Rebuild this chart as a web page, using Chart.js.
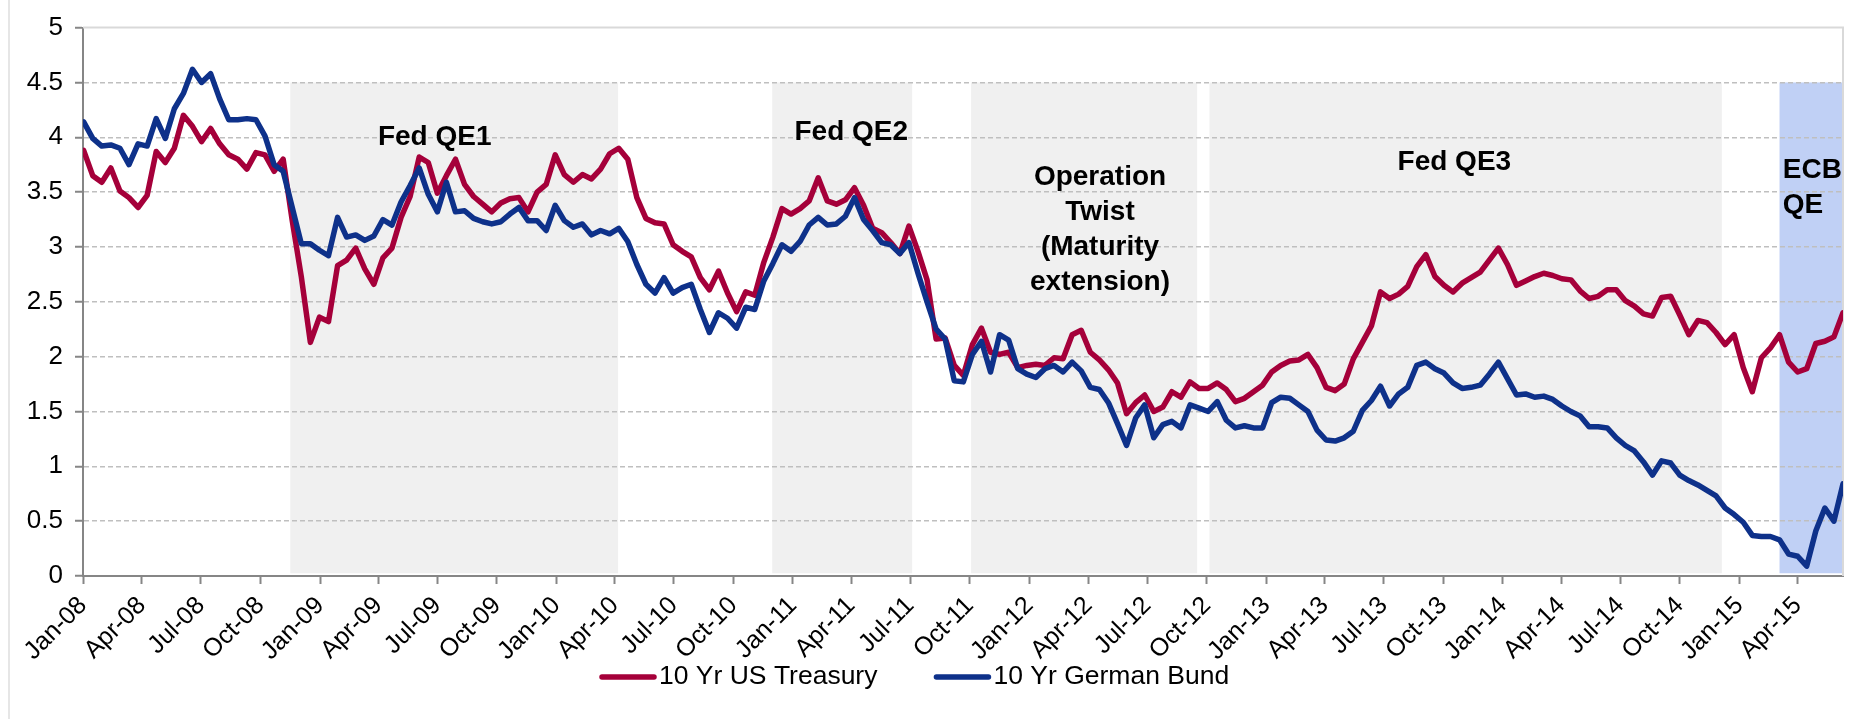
<!DOCTYPE html>
<html>
<head>
<meta charset="utf-8">
<script src="https://cdn.jsdelivr.net/npm/chart.js@4.4.1/dist/chart.umd.min.js"></script>
<style>
  html, body { margin: 0; padding: 0; background: #ffffff; }
  #wrap { width: 1855px; height: 719px; position: relative; }
  canvas { display: block; }
</style>
</head>
<body>
<div id="wrap"><canvas id="c" width="1855" height="719"></canvas></div>
<script>
// ---------------- DATA ----------------
// Bi-weekly observations starting on this date, one value every 14 days
const firstObservation = '2008-01-02';
const observationStepDays = 14;

const usTreasury = [
  3.88,3.65,3.59,3.72,3.51,3.45,3.36,3.47,3.87,3.77,
  3.90,4.20,4.10,3.96,4.08,3.94,3.84,3.80,3.71,3.86,
  3.84,3.69,3.80,3.24,2.73,2.13,2.36,2.32,2.83,2.88,
  2.99,2.80,2.66,2.90,2.99,3.27,3.46,3.82,3.77,3.49,
  3.65,3.80,3.57,3.46,3.39,3.32,3.40,3.44,3.45,3.32,
  3.50,3.57,3.84,3.66,3.59,3.66,3.62,3.71,3.85,3.90,
  3.80,3.45,3.26,3.22,3.21,3.02,2.96,2.91,2.72,2.61,
  2.78,2.58,2.41,2.59,2.56,2.86,3.09,3.35,3.30,3.35,
  3.42,3.63,3.42,3.39,3.43,3.54,3.38,3.17,3.13,3.04,
  2.94,3.19,2.96,2.70,2.16,2.17,1.92,1.83,2.11,2.26,
  2.04,2.02,2.04,1.90,1.92,1.93,1.92,1.99,1.98,2.20,
  2.24,2.04,1.97,1.88,1.76,1.48,1.58,1.65,1.50,1.54,
  1.68,1.63,1.77,1.71,1.71,1.76,1.70,1.59,1.62,1.68,
  1.74,1.86,1.92,1.96,1.97,2.02,1.90,1.72,1.69,1.75,
  1.98,2.13,2.28,2.59,2.53,2.57,2.64,2.82,2.93,2.73,
  2.65,2.59,2.67,2.72,2.77,2.88,2.99,2.84,2.65,2.69,
  2.73,2.76,2.74,2.71,2.70,2.60,2.53,2.55,2.61,2.61,
  2.51,2.46,2.39,2.37,2.54,2.55,2.38,2.20,2.33,2.31,
  2.22,2.11,2.20,1.90,1.68,1.99,2.08,2.20,1.95,1.86,
  1.89,2.12,2.14,2.18,2.40
];

const germanBund = [
  4.14,3.99,3.92,3.93,3.90,3.75,3.94,3.92,4.17,3.99,
  4.26,4.40,4.62,4.50,4.58,4.35,4.16,4.16,4.17,4.16,
  4.01,3.75,3.69,3.36,3.03,3.03,2.97,2.92,3.27,3.09,
  3.11,3.06,3.10,3.25,3.20,3.41,3.56,3.72,3.48,3.32,
  3.59,3.32,3.33,3.26,3.23,3.21,3.23,3.30,3.36,3.24,
  3.24,3.15,3.38,3.24,3.18,3.21,3.11,3.15,3.12,3.17,
  3.05,2.84,2.66,2.58,2.72,2.58,2.63,2.66,2.43,2.22,
  2.40,2.35,2.26,2.45,2.43,2.69,2.85,3.02,2.96,3.05,
  3.20,3.27,3.20,3.21,3.28,3.45,3.25,3.15,3.04,3.02,
  2.94,3.04,2.76,2.50,2.25,2.16,1.78,1.77,2.02,2.14,
  1.86,2.20,2.15,1.89,1.84,1.81,1.89,1.92,1.86,1.95,
  1.87,1.72,1.70,1.58,1.39,1.19,1.44,1.56,1.26,1.38,
  1.41,1.35,1.56,1.53,1.50,1.59,1.42,1.35,1.37,1.35,
  1.35,1.58,1.63,1.62,1.56,1.50,1.33,1.24,1.23,1.26,
  1.32,1.51,1.60,1.73,1.55,1.66,1.72,1.92,1.95,1.89,
  1.85,1.76,1.71,1.72,1.74,1.84,1.95,1.80,1.65,1.66,
  1.63,1.64,1.61,1.55,1.50,1.46,1.36,1.36,1.35,1.26,
  1.19,1.14,1.04,0.92,1.05,1.03,0.92,0.87,0.83,0.78,
  0.73,0.62,0.56,0.49,0.37,0.36,0.36,0.33,0.20,0.18,
  0.09,0.41,0.62,0.50,0.84
];

const seriesNames = ['10 Yr US Treasury', '10 Yr German Bund'];

// x-axis tick labels: quarter starts
const tickYears = [2008, 2009, 2010, 2011, 2012, 2013, 2014, 2015];
const tickMonthNames = ['Jan', 'Apr', 'Jul', 'Oct'];
const tickMonthNumbers = [1, 4, 7, 10];

// y-axis
const yMin = 0, yMax = 5, yStep = 0.5;

// Policy programmes (shaded bands)
const programmeNames = ['Fed QE1', 'Fed QE2', 'Operation Twist', 'Fed QE3', 'ECB QE'];
const programmeStart = ['2008-11-16', '2010-11-30', '2011-10-03', '2012-10-05', '2015-03-04'];
const programmeEnd   = ['2010-04-06', '2011-07-04', '2012-09-16', '2014-12-05', null];
const bandTopValue = 4.5, bandBottomValue = 0.025;

// Band captions (text lines, anchor date, anchor value of first line)
const captionLines = [
  ['Fed QE1'],
  ['Fed QE2'],
  ['Operation', 'Twist', '(Maturity', 'extension)'],
  ['Fed QE3'],
  ['ECB', 'QE']
];
const captionDates  = ['2009-06-27', '2011-04-01', '2012-04-19', '2013-10-18', '2015-03-09'];
const captionValues = [4.00, 4.045, 3.634, 3.773, 3.70];

// ---------------- HELPERS ----------------
const ORIGIN = Date.UTC(2008, 0, 1);
function dayOf(iso) {
  const [y, m, d] = iso.split('-').map(Number);
  return Math.round((Date.UTC(y, m - 1, d) - ORIGIN) / 86400000);
}
const firstDay = dayOf(firstObservation);
const observationDays = usTreasury.map((_, i) => firstDay + i * observationStepDays);
const lastDay = observationDays[observationDays.length - 1];

const tickValues = [], tickLabels = {};
tickYears.forEach(y => tickMonthNumbers.forEach((m, k) => {
  const iso = y + '-' + String(m).padStart(2, '0') + '-01';
  const d = dayOf(iso);
  if (d <= lastDay) {
    tickValues.push(d);
    tickLabels[d] = tickMonthNames[k] + '-' + String(y % 100).padStart(2, '0');
  }
}));

// ---------------- STYLE ----------------
const FONT = '"Liberation Sans", Arial, Helvetica, sans-serif';
const RED = '#A5003A';
const BLUE = '#0E318A';
const FED_FILL = '#F0F0F0';
const ECB_FILL = '#C0D0F5';
const AXIS_GREY = '#868686';

Chart.defaults.font.family = FONT;
Chart.defaults.color = '#000000';

const decorations = {
  id: 'decorations',
  beforeDraw(chart) {
    const { ctx, chartArea, scales: { x, y } } = chart;
    ctx.save();
    // outer frame (left edge)
    ctx.strokeStyle = '#E6E6E6';
    ctx.lineWidth = 2;
    ctx.beginPath();
    ctx.moveTo(9, 0); ctx.lineTo(9, chart.height);
    ctx.stroke();
    // bands
    const yTop = y.getPixelForValue(bandTopValue);
    const yBot = y.getPixelForValue(bandBottomValue);
    programmeNames.forEach((name, k) => {
      const x0 = x.getPixelForValue(dayOf(programmeStart[k]));
      const x1 = programmeEnd[k] ? x.getPixelForValue(dayOf(programmeEnd[k])) : chartArea.right;
      ctx.fillStyle = name.startsWith('ECB') ? ECB_FILL : FED_FILL;
      ctx.fillRect(x0, yTop, x1 - x0, yBot - yTop);
    });
    ctx.restore();
  },
  beforeDatasetsDraw(chart) {
    const { ctx, chartArea, scales: { x, y } } = chart;
    ctx.save();
    // plot-area top & right border
    ctx.strokeStyle = '#D9D9D9';
    ctx.lineWidth = 2;
    ctx.beginPath();
    ctx.moveTo(chartArea.left, chartArea.top);
    ctx.lineTo(chartArea.right, chartArea.top);
    ctx.lineTo(chartArea.right, chartArea.bottom);
    ctx.stroke();
    // captions
    ctx.fillStyle = '#000000';
    ctx.font = 'bold 28px ' + FONT;
    ctx.textBaseline = 'middle';
    captionLines.forEach((lines, k) => {
      const px = x.getPixelForValue(dayOf(captionDates[k]));
      const py = y.getPixelForValue(captionValues[k]);
      const isLeft = programmeNames[k].startsWith('ECB');
      ctx.textAlign = isLeft ? 'left' : 'center';
      lines.forEach((t, j) => ctx.fillText(t, px, py + j * 35));
    });
    ctx.restore();
  },
  afterDraw(chart) {
    const { ctx } = chart;
    ctx.save();
    ctx.font = '26.5px ' + FONT;
    ctx.textBaseline = 'middle';
    ctx.textAlign = 'left';
    let lx = 600;
    const ly = 677;
    const colors = [RED, BLUE];
    seriesNames.forEach((name, k) => {
      ctx.strokeStyle = colors[k];
      ctx.lineWidth = 5.5;
      ctx.lineCap = 'round';
      ctx.beginPath();
      ctx.moveTo(lx + 2, ly); ctx.lineTo(lx + 54, ly);
      ctx.stroke();
      ctx.fillStyle = '#000000';
      ctx.fillText(name, lx + 59, ly);
      lx = lx + 59 + ctx.measureText(name).width + 57;
    });
    ctx.restore();
  }
};

new Chart(document.getElementById('c'), {
  type: 'line',
  data: {
    datasets: [
      {
        label: seriesNames[0],
        data: usTreasury.map((v, i) => ({ x: observationDays[i], y: v })),
        borderColor: RED,
        borderWidth: 5.5,
        pointRadius: 0,
        tension: 0,
        borderJoinStyle: 'round',
        borderCapStyle: 'round',
        order: 1
      },
      {
        label: seriesNames[1],
        data: germanBund.map((v, i) => ({ x: observationDays[i], y: v })),
        borderColor: BLUE,
        borderWidth: 5.5,
        pointRadius: 0,
        tension: 0,
        borderJoinStyle: 'round',
        borderCapStyle: 'round',
        order: 0
      }
    ]
  },
  options: {
    responsive: false,
    animation: false,
    devicePixelRatio: 1,
    layout: { padding: { top: 22, right: 12, bottom: 0, left: 0 } },
    plugins: {
      legend: { display: false },
      tooltip: { enabled: false },
      title: { display: false }
    },
    scales: {
      x: {
        type: 'linear',
        min: 0,
        max: lastDay,
        afterBuildTicks: (scale) => { scale.ticks = tickValues.map(v => ({ value: v })); },
        afterFit: (scale) => { scale.height = 143; },
        ticks: {
          autoSkip: false,
          minRotation: 45,
          maxRotation: 45,
          padding: 7,
          font: { size: 25 },
          color: '#000000',
          callback: (v) => tickLabels[v] || ''
        },
        grid: {
          display: true,
          drawOnChartArea: false,
          drawTicks: true,
          tickLength: 8,
          tickColor: AXIS_GREY,
          tickWidth: 2
        },
        border: { display: true, color: AXIS_GREY, width: 2 }
      },
      y: {
        min: yMin,
        max: yMax,
        afterFit: (scale) => { scale.width = 83; },
        ticks: {
          stepSize: yStep,
          padding: 12,
          font: { size: 26 },
          color: '#000000',
          callback: (v) => String(Math.round(v * 10) / 10)
        },
        grid: {
          display: true,
          drawOnChartArea: true,
          drawTicks: true,
          tickLength: 8,
          color: (c) => (c.tick && (c.tick.value === yMax || c.tick.value === yMin)) ? 'rgba(0,0,0,0)' : '#BFBFBF',
          lineWidth: 1.5,
          tickColor: AXIS_GREY,
          tickWidth: 2
        },
        border: { display: true, color: AXIS_GREY, width: 2, dash: [5, 3] }
      }
    }
  },
  plugins: [decorations]
});
</script>
</body>
</html>
